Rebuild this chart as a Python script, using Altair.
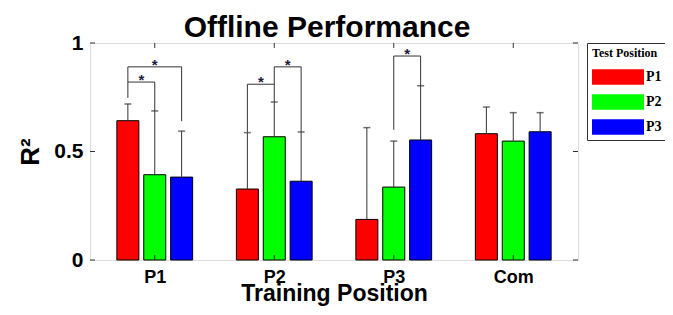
import altair as alt
import pandas as pd

# ---- data ----
groups = ["P1", "P2", "P3", "Com"]
tests = ["P1", "P2", "P3"]
colors = ["#ff0000", "#00ff00", "#0000ff"]

mean_P1 = [0.642, 0.393, 0.382]
mean_P2 = [0.327, 0.568, 0.363]
mean_P3 = [0.187, 0.336, 0.553]
mean_Com = [0.582, 0.548, 0.591]

upper_P1 = [0.719, 0.687, 0.594]
upper_P2 = [0.587, 0.728, 0.590]
upper_P3 = [0.610, 0.548, 0.803]
upper_Com = [0.705, 0.679, 0.679]

# significance brackets: group, left test, right test, top, left bottom, right bottom
br_group = ["P1", "P1", "P2", "P2", "P3"]
br_left = ["P1", "P1", "P1", "P2", "P2"]
br_right = ["P2", "P3", "P2", "P3", "P3"]
br_top = [0.82, 0.89, 0.81, 0.89, 0.94]
br_lbot = [0.747, 0.82, 0.59, 0.728, 0.60]
br_rbot = [0.687, 0.64, 0.81, 0.59, 0.803]

# ---- layout ----
W, H = 488, 217
bar_offset = [-0.225, 0.0, 0.225]

means = [mean_P1, mean_P2, mean_P3, mean_Com]
uppers = [upper_P1, upper_P2, upper_P3, upper_Com]

rows = []
for gi, g in enumerate(groups):
    for ti, t in enumerate(tests):
        rows.append({"group": g, "test": t, "mean": means[gi][ti],
                     "upper": uppers[gi][ti], "pos": gi + 0.5 + bar_offset[ti]})
df = pd.DataFrame(rows)

def xpos(g, t):
    return groups.index(g) + 0.5 + bar_offset[tests.index(t)]

seg = []
stars = []
for g, a, b, top, lb, rb in zip(br_group, br_left, br_right, br_top, br_lbot, br_rbot):
    xa, xb = xpos(g, a), xpos(g, b)
    seg.append({"x": xa, "x2": xa, "y": lb, "y2": top})
    seg.append({"x": xb, "x2": xb, "y": rb, "y2": top})
    seg.append({"x": xa, "x2": xb, "y": top, "y2": top})
    stars.append({"x": (xa + xb) / 2, "y": top})
seg_df = pd.DataFrame(seg)
star_df = pd.DataFrame(stars)

centers_df = pd.DataFrame({"c": [i + 0.5 for i in range(len(groups))]})
yt_df = pd.DataFrame({"v": [0, 0.5, 1]})

font = "Liberation Sans"
xscale = alt.Scale(domain=[0, len(groups)], nice=False, zero=False)
yscale = alt.Scale(domain=[0, 1], nice=False)

label_expr = "[" + ",".join("'%s'" % g for g in groups) + "][floor(datum.value)]"

xaxis = alt.Axis(values=[i + 0.5 for i in range(len(groups))], labelExpr=label_expr,
                 ticks=False, domain=False, grid=False, labelFont=font, labelFontSize=18,
                 labelFontWeight="bold", labelColor="black", labelPadding=8,
                 titleFont=font, titleFontSize=23, titleFontWeight="bold",
                 titleColor="black", titlePadding=-4)
yaxis = alt.Axis(values=[0, 0.5, 1], labelExpr="datum.value == 0.5 ? '0.5' : format(datum.value, 'd')",
                 ticks=False, domain=False, grid=False, labelFont=font, labelFontSize=21,
                 labelFontWeight="bold", labelColor="black", labelPadding=7,
                 titleFont=font, titleFontSize=26, titleFontWeight="bold",
                 titleColor="black", titlePadding=10)

# wide swatch: path spans x from -1 to 3 (4 units of sqrt(size)/2)
legend = alt.Legend(title="Test Position", orient="none", legendX=497, legendY=0,
                    titleFont="Liberation Serif", titleFontSize=12, titleFontWeight="bold",
                    titleColor="black", titlePadding=4, labelFont="Liberation Serif",
                    labelFontSize=14, labelFontWeight="bold", labelColor="black", labelOffset=28,
                    symbolType="M-1,-0.6L3,-0.6L3,0.6L-1,0.6Z", symbolSize=676,
                    symbolStrokeWidth=0, symbolOpacity=1, strokeColor="#333",
                    rowPadding=4, padding=5, fillColor="white")

base = alt.Chart(df)
bars = base.mark_bar(size=22, stroke="black", strokeWidth=1).encode(
    x=alt.X("pos:Q", scale=xscale, axis=xaxis, title="Training Position"),
    y=alt.Y("mean:Q", scale=yscale, axis=yaxis, title="R²"),
    color=alt.Color("test:N", scale=alt.Scale(domain=tests, range=colors), legend=legend),
)
err = base.mark_rule(color="#333", strokeWidth=1).encode(
    x="pos:Q", y="mean:Q", y2="upper:Q")
caps = base.mark_tick(orient="horizontal", size=7, thickness=1.5, color="#333").encode(
    x="pos:Q", y="upper:Q")

brackets = alt.Chart(seg_df).mark_rule(color="#333", strokeWidth=1).encode(
    x="x:Q", x2="x2:Q", y="y:Q", y2="y2:Q")
star_text = alt.Chart(star_df).mark_text(text="*", font=font, fontSize=15, fontWeight="bold",
                                         color="#1a1a3a", baseline="middle", dy=-2).encode(
    x="x:Q", y="y:Q")

top_ticks = alt.Chart(centers_df).mark_rule(color="#333").encode(
    x="c:Q", y=alt.value(0), y2=alt.value(5))
bot_ticks = alt.Chart(centers_df).mark_rule(color="#333").encode(
    x="c:Q", y=alt.value(H - 5), y2=alt.value(H))
left_ticks = alt.Chart(yt_df).mark_rule(color="#333").encode(
    y="v:Q", x=alt.value(0), x2=alt.value(5))
right_ticks = alt.Chart(yt_df).mark_rule(color="#333").encode(
    y="v:Q", x=alt.value(W - 5), x2=alt.value(W))

chart = alt.layer(bars, err, caps, brackets, star_text,
                  top_ticks, bot_ticks, left_ticks, right_ticks).properties(
    width=W, height=H,
    title=alt.TitleParams("Offline Performance", font=font, fontSize=30, fontWeight="bold",
                          color="black", anchor="middle", offset=2, dy=13, dx=-7),
    autosize=alt.AutoSizeParams(type="none"),
    padding={"left": 82, "top": 35, "right": 87, "bottom": 47},
).configure_view(stroke="#444", strokeWidth=1).configure(background="white")

chart.save("out.html", embed_options={"renderer": "svg", "actions": False})
